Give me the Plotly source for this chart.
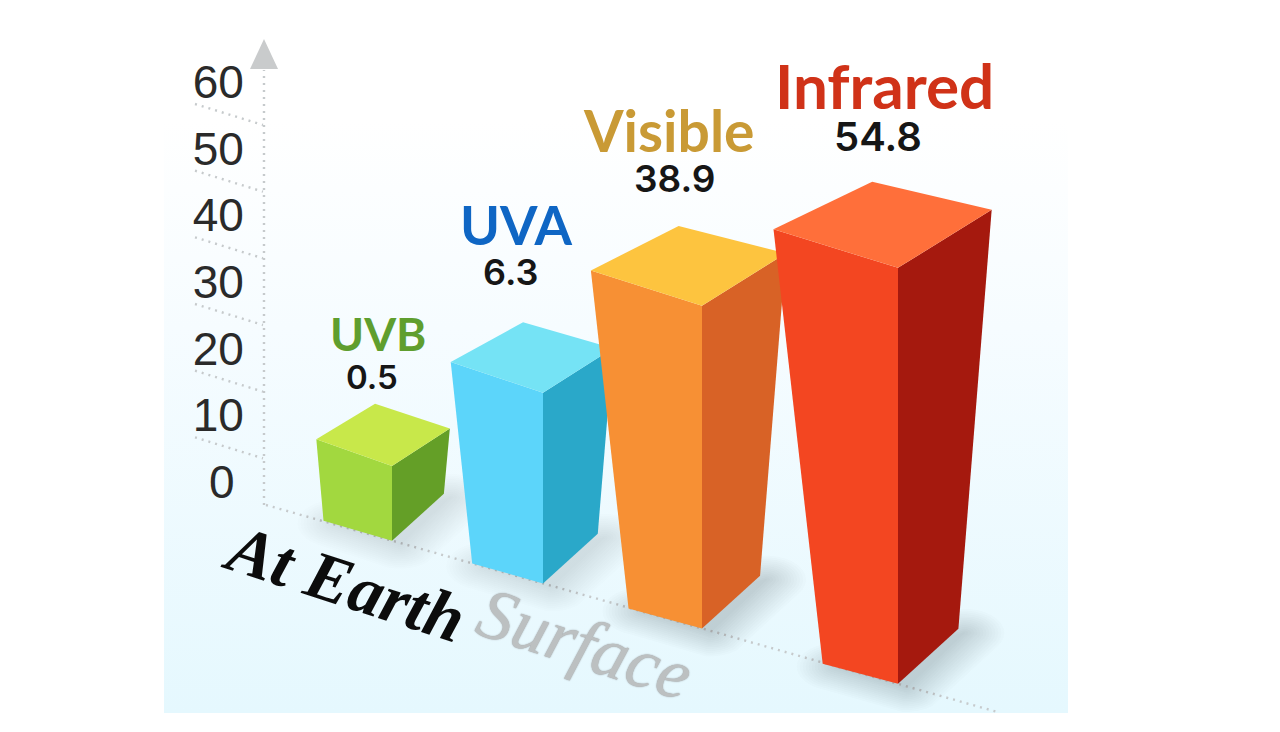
import math
import plotly.graph_objects as go

# ---- data ----
categories = ["UVB", "UVA", "Visible", "Infrared"]
values = [0.5, 6.3, 38.9, 54.8]
# height of each bar's front edge on the chart's own 0-60 scale, as drawn
drawn_heights = [11.2, 28.6, 48.4, 62.4]
tick_values = [0, 10, 20, 30, 40, 50, 60]
tick_labels = ["0\u2009", "10", "20", "30", "40", "50", "60"]

# ---- styles ----
top_colors = ["#c8e84a", "#75e3f5", "#fdc43f", "#ff6f3a"]
front_colors = ["#a2d83f", "#5cd5fa", "#f79034", "#f34621"]
side_colors = ["#649f27", "#2aa8c9", "#d86226", "#a5190e"]
name_colors = ["#5f9e2e", "#0f66c4", "#c99a35", "#d03218"]
name_sizes = [46, 54, 57, 62]
value_sizes = [33, 36, 37, 40]

# ---- layout of the pseudo-3D scene ----
W, H = 1280, 732
PX = 6.667           # pixels per axis unit
ZERO_PX = 482        # pixel row of value 0


def v(p):            # pixel row -> axis value
    return (ZERO_PX - p) / PX


def floor_v(x):      # floor line height at horizontal position x
    return v(505 + 0.283 * (x - 266))


slot_x = [392, 543, 702, 898]
name_dx = [3, -7, -10, 12]
value_dx = [-3, -13, -4, 6]
name_rise = [70, 98, 96, 97]
value_rise = [27, 50, 48, 45]

fig = go.Figure()


def poly(xs, ys, color, **kw):
    fig.add_trace(go.Scatter(x=list(xs) + [xs[0]], y=list(ys) + [ys[0]], mode="lines",
                             fill="toself", fillcolor=color, line=dict(width=0),
                             hoverinfo="skip", showlegend=False, **kw))


def dotted(xs, ys):
    fig.add_trace(go.Scatter(x=xs, y=ys, mode="lines", hoverinfo="skip", showlegend=False,
                             line=dict(color="#c6cacc", width=2.4, dash="2px 5px")))


def rounded_hull(points, r, sx=1.0, sy=0.6):
    # outline of a footprint grown by an ellipse of radius r (points in pixels, y up)
    xs, ys = [], []
    for a in range(0, 360, 12):
        c, s = math.cos(math.radians(a)), math.sin(math.radians(a))
        px_, py_ = max(points, key=lambda q: q[0] * c + q[1] * s)
        xs.append(px_ + r * sx * c)
        ys.append(py_ + r * sy * s)
    return xs, ys


# background panel
fig.add_trace(go.Scatter(
    x=[164, 1068, 1068, 164, 164], y=[v(20), v(20), v(713), v(713), v(20)], mode="lines",
    fill="toself", line=dict(width=0), hoverinfo="skip", showlegend=False,
    fillgradient=dict(type="vertical", start=v(120), stop=v(713),
                      colorscale=[[0, "#ffffff"], [0.35, "#f6fcff"], [1, "#e5f8fe"]])))

# axis furniture
dotted([264, 264], [v(505), v(70)])
for t in tick_values[1:]:
    dotted([195, 263], [t - 3.3, t - 6.45])
dotted([266, 1000], [floor_v(266), floor_v(1000)])
poly([250, 264, 278], [v(69), v(39), v(69)], "#c9cbcc")

# bars
for i, h in enumerate(drawn_heights):
    fx = slot_x[i]
    base = floor_v(fx)
    top = base + h
    hp = h * PX
    # pixel offsets widen with drawn height (taper towards the floor)
    tl = (-(65 + 0.143 * hp), (24 + 0.035 * hp) / PX)
    tr = (50 + 0.105 * hp, (33 + 0.06 * hp) / PX)
    bl = (-(67 + 0.02 * hp), 20 / PX)
    br = (50 + 0.025 * hp, (45 + 0.024 * hp) / PX)
    back = (tl[0] + tr[0] + 0.012 * hp, tl[1] + tr[1] - 0.025 * hp / PX)

    # soft contact shadow, a stack of faint grown footprints
    foot = [(fx + bl[0] + 14, base * PX + bl[1] * PX - 3), (fx + 8, base * PX - 4),
            (fx + br[0] + 6, base * PX + br[1] * PX - 4)]
    strength = 0.009 + 0.000016 * hp
    for r in range(40, 0, -3):
        sx_, sy_ = rounded_hull(foot, r)
        poly(sx_, [y / PX for y in sy_], f"rgba(75,85,90,{strength:.4f})")

    # faces
    poly([fx + bl[0], fx, fx, fx + tl[0]],
         [base + bl[1], base, top, top + tl[1]], front_colors[i])
    poly([fx, fx + br[0], fx + tr[0], fx],
         [base, base + br[1], top + tr[1], top], side_colors[i])
    poly([fx, fx + tl[0], fx + back[0], fx + tr[0]],
         [top, top + tl[1], top + back[1], top + tr[1]], top_colors[i])

    # labels above the back corner
    by = top + back[1]
    fig.add_annotation(x=fx + back[0] + name_dx[i], y=by + name_rise[i] / PX,
                       text=f"<b>{categories[i]}</b>", showarrow=False, xanchor="center", yanchor="middle",
                       font=dict(family="Lato", size=name_sizes[i], color=name_colors[i]))
    fig.add_annotation(x=fx + back[0] + value_dx[i], y=by + value_rise[i] / PX,
                       text=str(values[i]), showarrow=False, xanchor="center", yanchor="middle",
                       font=dict(family="Inter", size=value_sizes[i], color="#161616", weight=600))

# handwritten floor captions
fig.add_annotation(x=345, y=v(583), text="At Earth", showarrow=False, textangle=18,
                   xanchor="center", yanchor="middle",
                   font=dict(family="Liberation Serif", size=68, color="#0c0c0c", style="italic", weight=700))
fig.add_annotation(x=585, y=v(644), text="Surface", showarrow=False, textangle=18,
                   xanchor="center", yanchor="middle",
                   font=dict(family="Liberation Serif", size=72, color="#bcc0c1", style="italic",
                             shadow="0 0 1.5px #8f9294"))

fig.update_layout(
    width=W, height=H, margin=dict(l=0, r=0, t=0, b=0),
    paper_bgcolor="#ffffff", plot_bgcolor="#ffffff", showlegend=False,
    xaxis=dict(range=[0, W], visible=False, fixedrange=True),
    yaxis=dict(range=[v(H), v(0)], anchor="free", position=264 / W, side="left",
               tickmode="array", tickvals=tick_values, ticktext=tick_labels,
               ticks="outside", ticklen=11, tickcolor="rgba(0,0,0,0)",
               showgrid=False, zeroline=False, showline=False, fixedrange=True,
               tickfont=dict(family="Liberation Sans", size=46, color="#2a2a2a")),
)

fig.write_html("out.html", post_script="document.body.style.margin='0';", config={"displayModeBar": False})
